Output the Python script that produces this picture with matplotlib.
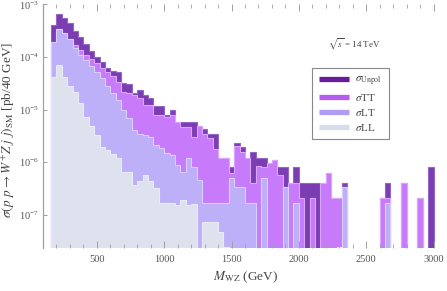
import matplotlib
matplotlib.use("Agg")
import matplotlib.pyplot as plt
import numpy as np
from matplotlib.lines import Line2D
from matplotlib.ticker import MultipleLocator, FixedLocator, NullLocator

plt.rcParams['font.family'] = ['Liberation Serif', 'DejaVu Serif']
plt.rcParams['mathtext.fontset'] = 'stix'

# 40 GeV bins, 160 -> 3000 GeV
edges = np.arange(160, 3001, 40)

unpol = [4.05e-4, 6.54e-4, 5.50e-4, 4.42e-4, 3.11e-4, 2.40e-4, 1.76e-4, 1.30e-4, 1.00e-4, 8.04e-5,
         6.18e-5, 5.42e-5, 5.19e-5, 3.21e-5, 3.07e-5, 2.07e-5, 2.36e-5, 1.90e-5, 1.67e-5, 1.18e-5,
         1.18e-5, 7.93e-6, 9.87e-6, 5.84e-6, 5.92e-6, 5.92e-6, 5.92e-6, 4.91e-6, 4.30e-6, 3.46e-6,
         3.46e-6, 1.21e-6, 1.21e-6, 8.18e-7, 2.34e-6, 1.96e-6, 1.21e-6, 1.58e-6, 1.21e-6, 1.21e-6,
         9.74e-7, 1.11e-6, 8.18e-7, 8.18e-7, 4.07e-7, 8.18e-7, 4.07e-7, 4.07e-7, 4.07e-7, 4.07e-7,
         4.07e-7, 6.30e-7, 2.11e-7, 2.11e-7, 4.07e-7, 0, 0, 0, 0, 0,
         0, 2.11e-7, 4.07e-7, 0, 0, 4.07e-7, 0, 0, 2.11e-7, 0,
         8.18e-7]

tt = [1.69e-4, 2.85e-4, 2.50e-4, 2.01e-4, 1.69e-4, 1.36e-4, 1.09e-4, 9.16e-5, 7.69e-5, 6.18e-5,
      5.19e-5, 4.36e-5, 3.35e-5, 2.17e-5, 2.07e-5, 1.90e-5, 1.67e-5, 1.23e-5, 1.23e-5, 7.93e-6,
      7.93e-6, 7.27e-6, 7.93e-6, 5.84e-6, 4.70e-6, 4.70e-6, 3.03e-6, 4.91e-6, 3.46e-6, 2.90e-6,
      1.80e-6, 1.21e-6, 1.21e-6, 6.30e-7, 2.05e-6, 1.58e-6, 1.21e-6, 4.07e-7, 8.55e-7, 8.18e-7,
      9.74e-7, 1.11e-6, 5.77e-7, 3.27e-7, 4.07e-7, 4.07e-7, 2.11e-7, 0, 2.11e-7, 0,
      4.07e-7, 6.30e-7, 2.11e-7, 2.11e-7, 3.00e-7, 0, 0, 0, 0, 0,
      0, 2.11e-7, 2.11e-7, 0, 0, 4.07e-7, 0, 0, 2.11e-7, 0,
      0]

lt = [1.93e-4, 3.40e-4, 2.85e-4, 2.20e-4, 1.48e-4, 1.09e-4, 8.77e-5, 6.75e-5, 5.19e-5, 3.99e-5,
      2.82e-5, 2.07e-5, 1.53e-5, 9.87e-6, 6.96e-6, 4.12e-6, 3.46e-6, 3.31e-6, 3.03e-6, 2.14e-6,
      1.88e-6, 1.51e-6, 1.38e-6, 8.93e-7, 6.57e-7, 1.21e-6, 8.18e-7, 4.64e-7, 1.70e-7, 1.70e-7,
      1.70e-7, 1.70e-7, 1.70e-7, 5.06e-7, 3.41e-7, 3.41e-7, 1.70e-7, 1.70e-7, 0, 5.06e-7,
      0, 0, 0, 3.41e-7, 0, 1.70e-7, 0, 0, 0, 0,
      0, 0, 0, 0, 3.41e-7, 0, 0, 0, 0, 0,
      0, 0, 1.70e-7, 0, 0, 0, 0, 0, 0, 0,
      0]

ll = [4.17e-5, 7.05e-5, 4.17e-5, 2.82e-5, 2.17e-5, 1.34e-5, 7.27e-6, 4.91e-6, 3.31e-6, 1.96e-6,
      1.72e-6, 1.44e-6, 1.21e-6, 6.57e-7, 6.57e-7, 3.73e-7, 4.44e-7, 5.77e-7, 4.44e-7, 3.27e-7,
      1.70e-7, 1.70e-7, 1.70e-7, 1.55e-7, 1.93e-7, 1.55e-7, 1.62e-7, 0, 7.40e-8, 7.40e-8,
      7.40e-8, 4.78e-8, 2.48e-8, 0, 0, 0, 0, 0, 0, 0,
      0, 0, 0, 0, 0, 0, 0, 0, 0, 0,
      0, 0, 0, 2.48e-8, 0, 0, 0, 0, 0, 0,
      0, 0, 0, 0, 0, 0, 0, 0, 0, 0,
      0]

series = [
    (unpol, '#7B3DB2', '#9466C6', '#671C9B', r'$\sigma_{\mathrm{Unpol}}$'),
    (tt, '#C77AF9', '#DCA6FC', '#B55CF2', r'$\sigma$TT'),
    (lt, '#BDAFF8', '#D8CFFB', '#AE9DF3', r'$\sigma$LT'),
    (ll, '#DEE1EE', '#E9EBF4', '#D8DDEB', r'$\sigma$LL'),
]

fig = plt.figure(figsize=(4.47, 2.91), dpi=100)
ax = fig.add_axes([43 / 447, 43 / 291, 1 - 43 / 447, 243.7 / 291])

handles = []
for vals, fc, ec, lc, lab in series:
    v = np.array(vals, dtype=float)
    v = np.where(v > 0, v, 1e-12)
    ax.stairs(v, edges, baseline=1e-12, fill=True, facecolor=fc,
              edgecolor=ec, linewidth=0.8)
    handles.append(Line2D([], [], color=lc, lw=3.8, solid_capstyle='butt', label=lab))

ax.set_yscale('log')
ax.set_xlim(100, 3100)
ax.set_ylim(2.35e-8, 1e-3)

for s in ['top', 'right', 'bottom']:
    ax.spines[s].set_visible(False)
ax.spines['left'].set_color('#a0a0a0')
ax.spines['left'].set_linewidth(0.9)

ax.xaxis.set_major_locator(MultipleLocator(500))
ax.xaxis.set_minor_locator(FixedLocator(np.arange(200, 3100, 100)))
ax.yaxis.set_minor_locator(NullLocator())
ax.tick_params(axis='x', which='both', direction='in', top=True, color='#a0a0a0',
               labelcolor='#555555', labelsize=7.5, pad=5)
ax.tick_params(axis='x', which='major', length=5, width=0.7)
ax.tick_params(axis='x', which='minor', length=2.8, width=0.6)
ax.tick_params(axis='y', which='major', direction='in', length=3, width=0.7, color='#a0a0a0',
               labelcolor='#555555', labelsize=7.5, pad=3)

ax.set_xlabel(r'$M_{\mathrm{WZ}}$ (GeV)', fontsize=9.5, color='#444444', labelpad=4)
ax.set_ylabel(r'$\sigma(p\;\,p \rightarrow W^{+}Z\;j\;\,j)_{\mathrm{SM}}$ [pb/40 GeV]',
              fontsize=9.5, color='#444444')
ax.yaxis.set_label_coords(-0.064, 0.485)

fig.text(354 / 447, 1 - 44 / 291, r'$\sqrt{s}$ = 14 TeV', fontsize=6.5, color='#444444',
         ha='center', va='center')

leg = fig.legend(handles=handles, loc='upper left', bbox_to_anchor=(312 / 447, 1 - 68 / 291),
                 fontsize=8, handlelength=2.7, handletextpad=0.6, labelspacing=0.35,
                 borderpad=0.6, borderaxespad=0, fancybox=False, framealpha=1,
                 edgecolor='#888888')
leg.get_frame().set_linewidth(0.8)
for t in leg.get_texts():
    t.set_color('#444444')

fig.savefig('out.png', dpi=100)
